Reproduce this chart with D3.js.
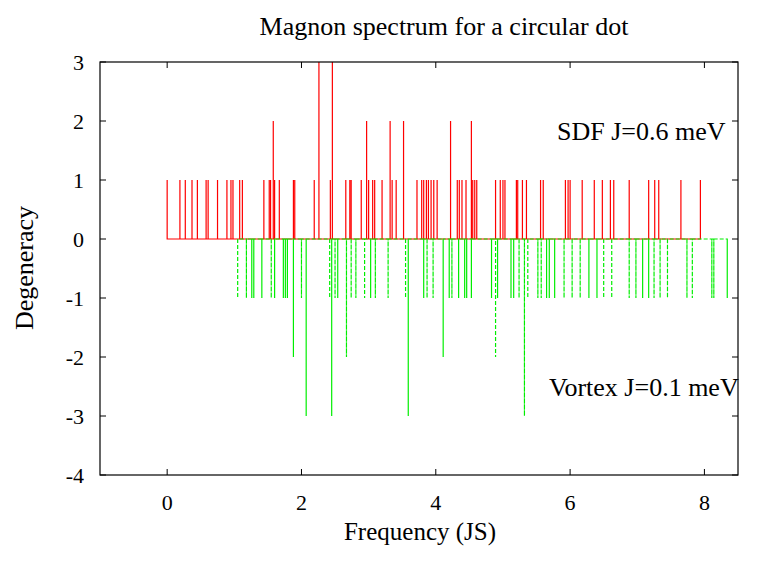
<!DOCTYPE html>
<html>
<head>
<meta charset="utf-8">
<script src="https://cdn.jsdelivr.net/npm/d3@7.9.0/dist/d3.min.js"></script>
<style>
  body { margin: 0; background: #fff; }
  svg { font-family: "Liberation Serif", "DejaVu Serif", serif; }
</style>
</head>
<body>
<svg id="chart" width="763" height="562"></svg>
<script>
// SDF J=0.6 meV: frequencies and degeneracies (positive)
const sdfFreq = [0.0, 0.19, 0.27, 0.37, 0.45, 0.58, 0.61, 0.75, 0.89, 0.95, 0.98, 1.08, 1.12,
  1.44, 1.52, 1.54, 1.58, 1.60, 1.67, 1.88, 1.90, 2.19, 2.26, 2.43, 2.46, 2.66, 2.72, 2.74,
  2.89, 2.97, 3.0, 3.06, 3.09, 3.20, 3.32, 3.35, 3.41, 3.52, 3.72, 3.79, 3.82, 3.86, 3.89,
  3.93, 3.97, 4.02, 4.22, 4.32, 4.35, 4.39, 4.45, 4.53, 4.55, 4.58, 4.61, 4.89, 4.96, 5.00,
  5.03, 5.20, 5.22, 5.29, 5.35, 5.56, 5.60, 5.93, 5.97, 6.0, 6.18, 6.36, 6.48, 6.60, 6.65,
  6.88, 7.17, 7.26, 7.32, 7.65, 7.94];
const sdfDeg = [1, 1, 1, 1, 1, 1, 1, 1, 1, 1, 1, 1, 1,
  1, 1, 1, 2, 1, 1, 1, 1, 1, 3, 1, 3, 1, 1, 1,
  1, 2, 1, 1, 1, 1, 2, 1, 1, 2, 1, 1, 1, 1, 1,
  1, 1, 1, 2, 1, 1, 1, 1, 2, 1, 1, 1, 1, 1, 1,
  1, 1, 1, 1, 1, 1, 1, 1, 1, 1, 1, 1, 1, 1, 1,
  1, 1, 1, 1, 1, 1];

// Vortex J=0.1 meV: frequencies and degeneracies (plotted negative)
const vortexFreq = [1.05, 1.18, 1.26, 1.29, 1.41, 1.55, 1.60, 1.73, 1.76, 1.79, 1.88, 2.00,
  2.07, 2.42, 2.45, 2.50, 2.54, 2.67, 2.74, 2.81, 2.94, 3.03, 3.10, 3.29, 3.55, 3.59, 3.82,
  3.87, 3.96, 4.11, 4.20, 4.24, 4.34, 4.43, 4.46, 4.53, 4.83, 4.89, 4.92, 5.12, 5.16, 5.24,
  5.32, 5.37, 5.52, 5.57, 5.65, 5.69, 5.77, 5.91, 6.03, 6.15, 6.28, 6.40, 6.50, 6.62, 6.88,
  6.98, 7.08, 7.17, 7.25, 7.34, 7.45, 7.74, 7.82, 8.11, 8.14, 8.34];
const vortexDeg = [-1, -1, -1, -1, -1, -1, -1, -1, -1, -1, -2, -1,
  -3, -1, -3, -1, -1, -2, -1, -1, -1, -1, -1, -1, -1, -3, -1,
  -1, -1, -2, -1, -1, -1, -1, -1, -1, -1, -2, -1, -1, -1, -1,
  -3, -1, -1, -1, -1, -1, -1, -1, -1, -1, -1, -1, -1, -1, -1,
  -1, -1, -1, -1, -1, -1, -1, -1, -1, -1, -1];

const xTicks = [0, 2, 4, 6, 8];
const yTicks = [-4, -3, -2, -1, 0, 1, 2, 3];

const svg = d3.select('#chart');
const m = { left: 100, right: 738, top: 62, bottom: 475 };

const x = d3.scaleLinear().domain([-1, 8.5]).range([m.left, m.right]);
const y = d3.scaleLinear().domain([-4, 3]).range([m.bottom, m.top]);

// ── Spectra: each line goes base -> peak -> base ──────────────────────────
function spikes(freq, deg) {
  const pts = [];
  freq.forEach((f, i) => {
    pts.push([f, 0], [f, deg[i]], [f, 0]);
  });
  return pts;
}
const line = d3.line().x((d) => x(d[0])).y((d) => y(d[1]));

svg.append('path')
  .attr('d', line(spikes(sdfFreq, sdfDeg)))
  .attr('fill', 'none')
  .attr('stroke', '#ff0000')
  .attr('stroke-width', 1.2);

svg.append('path')
  .attr('d', line(spikes(vortexFreq, vortexDeg)))
  .attr('fill', 'none')
  .attr('stroke', '#00ee00')
  .attr('stroke-width', 1.2)
  .attr('stroke-dasharray', '4,2');

// ── Frame and ticks (mirrored inward) ─────────────────────────────────────
const tick = 6;
const axes = svg.append('g').attr('stroke', '#000').attr('stroke-width', 1);
xTicks.forEach((t) => {
  axes.append('line').attr('x1', x(t)).attr('x2', x(t)).attr('y1', m.bottom).attr('y2', m.bottom - tick);
  axes.append('line').attr('x1', x(t)).attr('x2', x(t)).attr('y1', m.top).attr('y2', m.top + tick);
});
yTicks.forEach((t) => {
  axes.append('line').attr('x1', m.left).attr('x2', m.left + tick).attr('y1', y(t)).attr('y2', y(t));
  axes.append('line').attr('x1', m.right).attr('x2', m.right - tick).attr('y1', y(t)).attr('y2', y(t));
});
svg.append('rect')
  .attr('x', m.left).attr('y', m.top)
  .attr('width', m.right - m.left).attr('height', m.bottom - m.top)
  .attr('fill', 'none').attr('stroke', '#000').attr('stroke-width', 1.2);

// ── Tick labels ───────────────────────────────────────────────────────────
svg.selectAll('.xl').data(xTicks).join('text')
  .attr('x', (d) => x(d)).attr('y', 510)
  .attr('text-anchor', 'middle').attr('font-size', 22)
  .text((d) => d);
svg.selectAll('.yl').data(yTicks).join('text')
  .attr('x', 84).attr('y', (d) => y(d) + 8)
  .attr('text-anchor', 'end').attr('font-size', 22)
  .text((d) => d);

// ── Titles and labels ─────────────────────────────────────────────────────
svg.append('text').attr('x', 444).attr('y', 35).attr('text-anchor', 'middle')
  .attr('font-size', 26).text('Magnon spectrum for a circular dot');
svg.append('text').attr('x', 420).attr('y', 540).attr('text-anchor', 'middle')
  .attr('font-size', 25).text('Frequency (JS)');
svg.append('text').attr('transform', 'translate(33,268) rotate(-90)').attr('text-anchor', 'middle')
  .attr('font-size', 26).text('Degeneracy');
svg.append('text').attr('x', 557).attr('y', 140).attr('font-size', 26).text('SDF J=0.6 meV');
svg.append('text').attr('x', 549).attr('y', 396).attr('font-size', 26).text('Vortex J=0.1 meV');
</script>
</body>
</html>
